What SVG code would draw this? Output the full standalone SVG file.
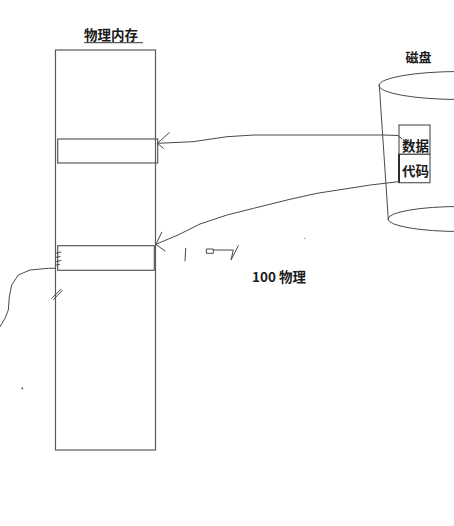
<svg xmlns="http://www.w3.org/2000/svg" width="454" height="526" viewBox="0 0 454 526">
<style>
.box{fill:none;stroke:#5a5a5a;stroke-width:1.2}
.ln{fill:none;stroke:#4a4a4a;stroke-width:1;stroke-linecap:round;stroke-linejoin:round}
.t{font-family:"Noto Sans CJK SC","Liberation Sans",sans-serif;font-weight:bold;fill:#1a1a1a}
</style>
<rect width="454" height="526" fill="#ffffff"/>
<g id="memory">
  <rect class="box" x="55.5" y="50" width="100" height="400"/>
  <text class="t" x="111" y="40" font-size="13.5" text-anchor="middle">物理内存</text>
  <line x1="84" y1="42.7" x2="143" y2="42.7" stroke="#333" stroke-width="1"/>
</g>
<g id="slot-data">
  <rect class="box" x="57.7" y="139" width="100" height="24"/>
</g>
<g id="slot-code">
  <rect class="box" x="57.7" y="245.7" width="96.6" height="24.6"/>
</g>
<g id="disk">
  <ellipse class="ln" cx="460" cy="85.5" rx="81" ry="14"/>
  <line class="ln" x1="379.3" y1="85" x2="388.3" y2="219.5"/>
  <ellipse class="ln" cx="460" cy="219" rx="72" ry="12.5"/>
  <text class="t" x="418.5" y="61.5" font-size="13" text-anchor="middle">磁盘</text>
</g>
<g id="disk-data">
  <rect class="box" x="399" y="125" width="31" height="29.3"/>
  <text class="t" x="415.5" y="151" font-size="13.5" text-anchor="middle">数据</text>
</g>
<g id="disk-code">
  <rect class="box" x="399" y="154.3" width="31" height="28.4"/>
  <line x1="399" y1="154.3" x2="399" y2="182.7" stroke="#111" stroke-width="1.6"/>
  <text class="t" x="415.5" y="175.5" font-size="13.5" text-anchor="middle" fill="#10122e">代码</text>
</g>
<g id="label-100">
  <text class="t" x="252" y="282" font-size="13.5">100 物理</text>
</g>
<g id="connectors">
  <path class="ln" d="M402,139 L398,135.5 L383,135 L254,135 L227,136.7 L193,141.7 L158,143.3"/>
  <path class="ln" d="M157.5,143.3 L169.3,132.7 M157.5,143.5 L163.3,148.3"/>
  <path class="ln" d="M398.5,181.7 L370.3,185 L317,193.3 L287,200 L253.7,208.3 L227,215 L200,224 L178,235 L156,244.3"/>
  <path class="ln" d="M156,244.3 L161.7,232.3 M156,244.5 L165,251"/>
</g>
<g id="scribbles">
  <path class="ln" d="M0,326.7 L5,318.3 L8.3,310 L9.3,296.7 L11.7,285 L18.3,275 L30,270 L48.3,268.3 L55,268.3"/>
  <path class="ln" d="M56,253.3 L61,252 M56,257.3 L60,256.5 M56,261.7 L61,260.5 M56,265 L59.5,264.5"/>
  <path class="ln" d="M51.7,298.3 L61,289.3 M53.5,299.5 L62.3,290.5"/>
  <circle cx="22.3" cy="388.3" r="0.9" fill="#333"/>
  <circle cx="304.7" cy="238.3" r="0.6" fill="#777"/>
  <path class="ln" d="M185.7,248.3 L185,261"/>
  <rect class="ln" x="206.7" y="249" width="6.6" height="4.3"/>
  <path class="ln" d="M213.3,250 L233.3,250 L231,260 L238.3,245.7"/>
</g>
</svg>
